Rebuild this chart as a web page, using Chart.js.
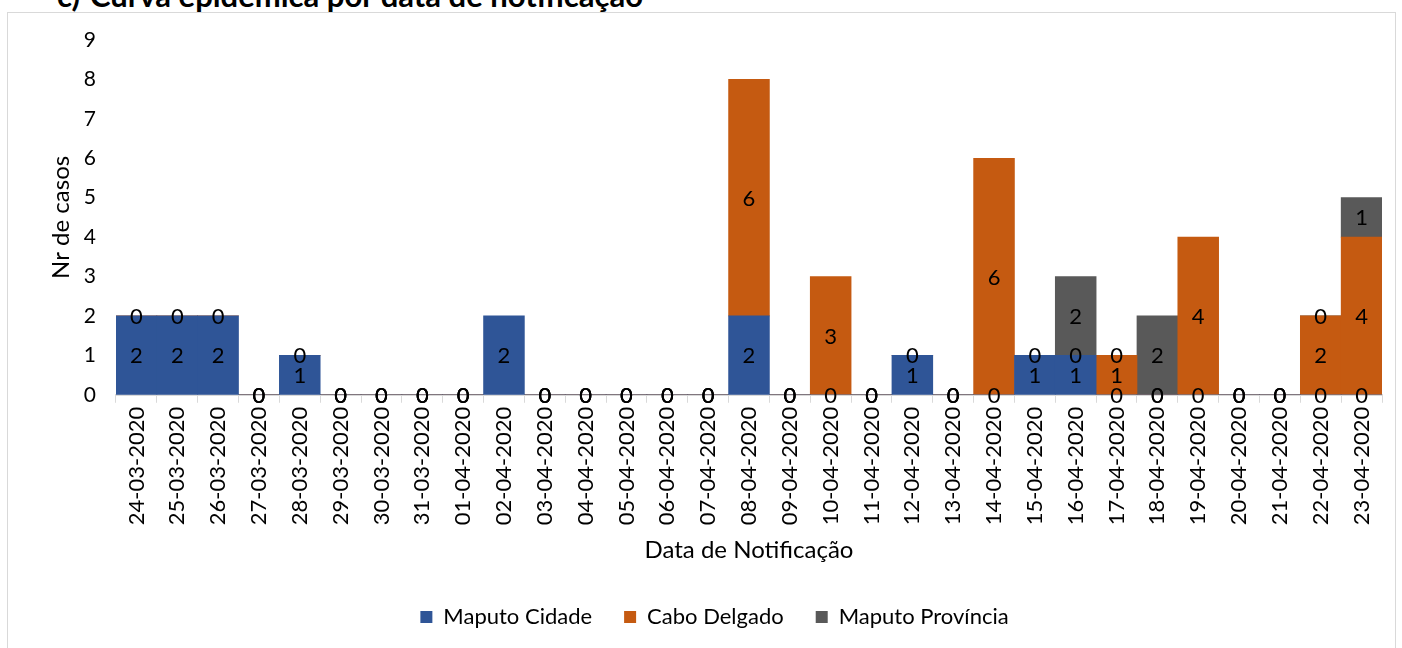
<!DOCTYPE html>
<html>
<head>
<meta charset="utf-8">
<script src="https://cdn.jsdelivr.net/npm/chart.js@4/dist/chart.umd.min.js"></script>
<style>
  html, body { margin: 0; padding: 0; background: #fff; width: 1402px; height: 648px; overflow: hidden; }
  #frame { position: absolute; left: 7px; top: 12px; width: 1389px; height: 660px; border: 1px solid #d9d9d9; box-sizing: border-box; }
  .ttl { position: absolute; top: -20px; font-family: Lato, sans-serif; font-weight: bold; font-size: 31px; line-height: 31px; color: #000; white-space: pre; }
  #wrap { position: absolute; left: 0; top: 0; width: 1402px; height: 648px; }
</style>
</head>
<body>
<div id="frame"></div>
<div class="ttl" style="left:57px">c)</div>
<div class="ttl" style="left:90px">Curva epidémica por data de notificação</div>
<div id="wrap"><canvas id="c" width="1402" height="648"></canvas></div>
<script>
const categories = [
  "24-03-2020","25-03-2020","26-03-2020","27-03-2020","28-03-2020","29-03-2020","30-03-2020","31-03-2020",
  "01-04-2020","02-04-2020","03-04-2020","04-04-2020","05-04-2020","06-04-2020","07-04-2020","08-04-2020",
  "09-04-2020","10-04-2020","11-04-2020","12-04-2020","13-04-2020","14-04-2020","15-04-2020","16-04-2020",
  "17-04-2020","18-04-2020","19-04-2020","20-04-2020","21-04-2020","22-04-2020","23-04-2020"
];
const maputoCidade = [2,2,2,0,1,0,0,0, 0,2,0,0,0,0,0,2, 0,0,0,1,0,0,1,1, 0,0,0,0,0,0,0];
const caboDelgado  = [0,0,0,0,0,0,0,0, 0,null,0,0,0,0,0,6, 0,3,0,0,0,6,0,0, 1,0,4,0,0,2,4];
const maputoProvincia = [null,null,null,0,null,0,0,0, 0,null,0,0,0,0,0,null, 0,null,0,null,0,null,null,2, 0,2,null,0,0,0,1];
const yTicks = [0,1,2,3,4,5,6,7,8,9];

const FONT = "Lato, sans-serif";

const labelPlugin = {
  id: 'segLabels',
  afterDatasetsDraw(chart) {
    const ctx = chart.ctx;
    ctx.save();
    ctx.font = "22px " + FONT;
    ctx.fillStyle = "#000";
    ctx.textAlign = "center";
    ctx.textBaseline = "middle";
    chart.data.datasets.forEach((ds, di) => {
      const meta = chart.getDatasetMeta(di);
      meta.data.forEach((el, i) => {
        const v = ds.data[i];
        if (v === null || v === undefined) return;
        const y = (el.y + el.base) / 2;
        ctx.fillText(String(v), el.x, y + 1);
      });
    });
    ctx.restore();
  }
};

new Chart(document.getElementById('c'), {
  type: 'bar',
  data: {
    labels: categories,
    datasets: [
      { label: 'Maputo Cidade', data: maputoCidade, backgroundColor: '#2F5597' },
      { label: 'Cabo Delgado', data: caboDelgado, backgroundColor: '#C55A11' },
      { label: 'Maputo Província', data: maputoProvincia, backgroundColor: '#595959' }
    ]
  },
  options: {
    responsive: false,
    animation: false,
    devicePixelRatio: 1,
    layout: { padding: { left: 47, right: 20, top: 40, bottom: 10 } },
    datasets: { bar: { categoryPercentage: 1.0, barPercentage: 1.0, borderWidth: 0 } },
    plugins: {
      legend: {
        position: 'bottom',
        labels: { boxWidth: 12, boxHeight: 12, padding: 32, color: '#000', font: { family: FONT, size: 22 } }
      },
      tooltip: { enabled: false },
      title: { display: false }
    },
    scales: {
      x: {
        stacked: true,
        grid: { display: true, drawOnChartArea: false, offset: true, color: '#d9d9d9', tickLength: 8 },
        border: { display: true, color: '#d9d9d9', width: 2 },
        ticks: { autoSkip: false, maxRotation: 90, minRotation: 90, color: '#000', padding: 4, font: { family: FONT, size: 22 } },
        title: { display: true, text: 'Data de Notificação', color: '#000', font: { family: FONT, size: 24 }, padding: { top: 7, bottom: 9 } }
      },
      y: {
        stacked: true,
        min: 0, max: 9,
        afterBuildTicks(s) { s.ticks = yTicks.map(v => ({ value: v })); },
        afterFit(s) { s.width = 69; },
        grid: { display: false },
        border: { display: false },
        ticks: { color: '#000', padding: 12, font: { family: FONT, size: 21 } },
        title: { display: true, text: 'Nr de casos', color: '#000', font: { family: FONT, size: 24 }, padding: 0 }
      }
    }
  },
  plugins: [labelPlugin]
});
</script>
</body>
</html>
